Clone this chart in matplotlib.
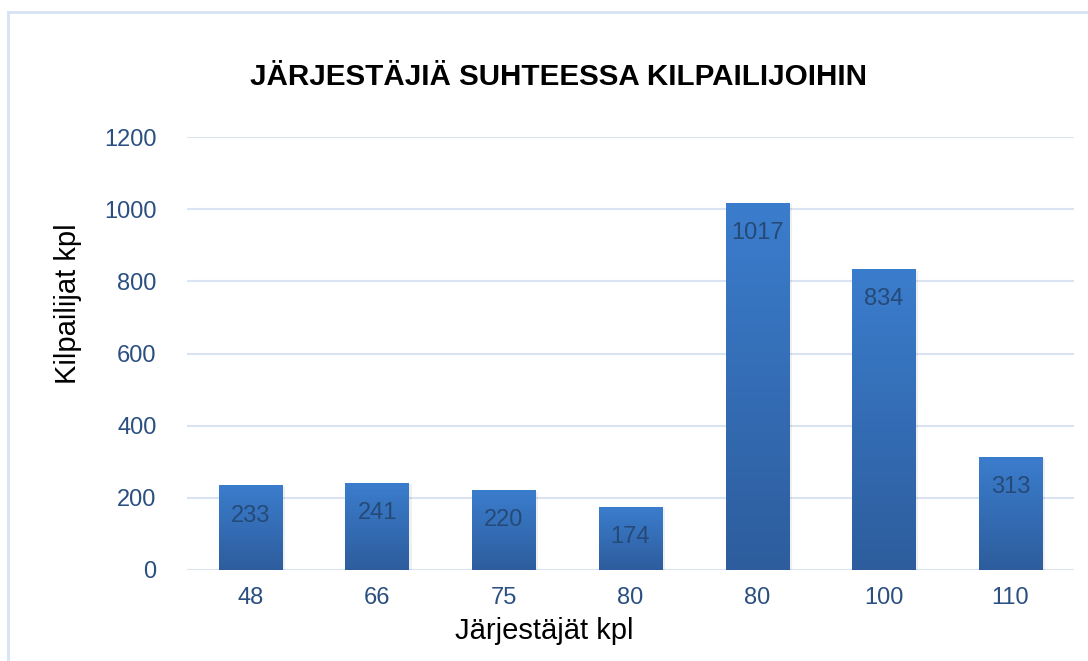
import matplotlib.pyplot as plt
from matplotlib.lines import Line2D
import numpy as np

plt.rcParams['font.family'] = ['Liberation Sans', 'DejaVu Sans']

# data
categories = ["48", "66", "75", "80", "80", "100", "110"]
values = [233, 241, 220, 174, 1017, 834, 313]

title = "JÄRJESTÄJIÄ SUHTEESSA KILPAILIJOIHIN"
xlabel = "Järjestäjät kpl"
ylabel = "Kilpailijat kpl"

tick_col = "#2a4f80"
grid_col = "#d9e3f1"

fig = plt.figure(figsize=(10.88, 6.61), dpi=100)
ax = fig.add_axes([0.172, 0.1377, 0.815, 0.655])

x = np.arange(len(categories))
w = 0.5
bars = ax.bar(x, values, width=w, color="none", zorder=3)

# vertical gradient for each bar
grad = np.linspace(0, 1, 256).reshape(-1, 1)
cmap = plt.matplotlib.colors.LinearSegmentedColormap.from_list(
    "bar", ["#2d5d9d", "#3b7dcd"])
for b in bars:
    x0, h = b.get_x(), b.get_height()
    # soft shadow
    ax.bar(x0 + w / 2 + 0.012, h, width=w + 0.02, bottom=-4,
           color="#000000", alpha=0.06, zorder=2)
    ax.imshow(grad, extent=[x0, x0 + w, 0, h], origin="lower", cmap=cmap,
              aspect="auto", zorder=3)
    ax.text(x0 + w / 2, h - 82, str(int(h)), ha="center", va="center",
            fontsize=17, color="#264a78", zorder=4)

ax.set_xlim(-0.5, len(categories) - 0.5)
ax.set_ylim(0, 1200)
ax.set_yticks(np.arange(0, 1201, 200))
ax.set_xticks(x)
ax.set_xticklabels(categories)
ax.yaxis.grid(True, color=grid_col, linewidth=1.5, zorder=0)
ax.set_axisbelow(True)
for s in ax.spines.values():
    s.set_visible(False)
ax.tick_params(length=0, labelsize=17, labelcolor=tick_col)
ax.tick_params(axis="y", pad=22)
ax.tick_params(axis="x", pad=12)

fig.text(544 / 1088, 1 - 631 / 661, xlabel, ha="center", va="center",
         fontsize=21, color="black")
fig.text(68 / 1088, 1 - 304 / 661, ylabel, ha="center", va="center",
         fontsize=21, color="black", rotation=90)
fig.text(558 / 1088, 1 - 77 / 661, title, ha="center", va="center",
         fontsize=21.3, fontweight="bold", color="black")

# outer chart border
bc = "#d6e4f5"
fig.add_artist(Line2D([8 / 1088, 1.0], [1 - 12 / 661, 1 - 12 / 661],
                      color=bc, linewidth=2, transform=fig.transFigure))
fig.add_artist(Line2D([8 / 1088, 8 / 1088], [0, 1 - 12 / 661],
                      color=bc, linewidth=2, transform=fig.transFigure))

fig.savefig("out.png", dpi=100)
